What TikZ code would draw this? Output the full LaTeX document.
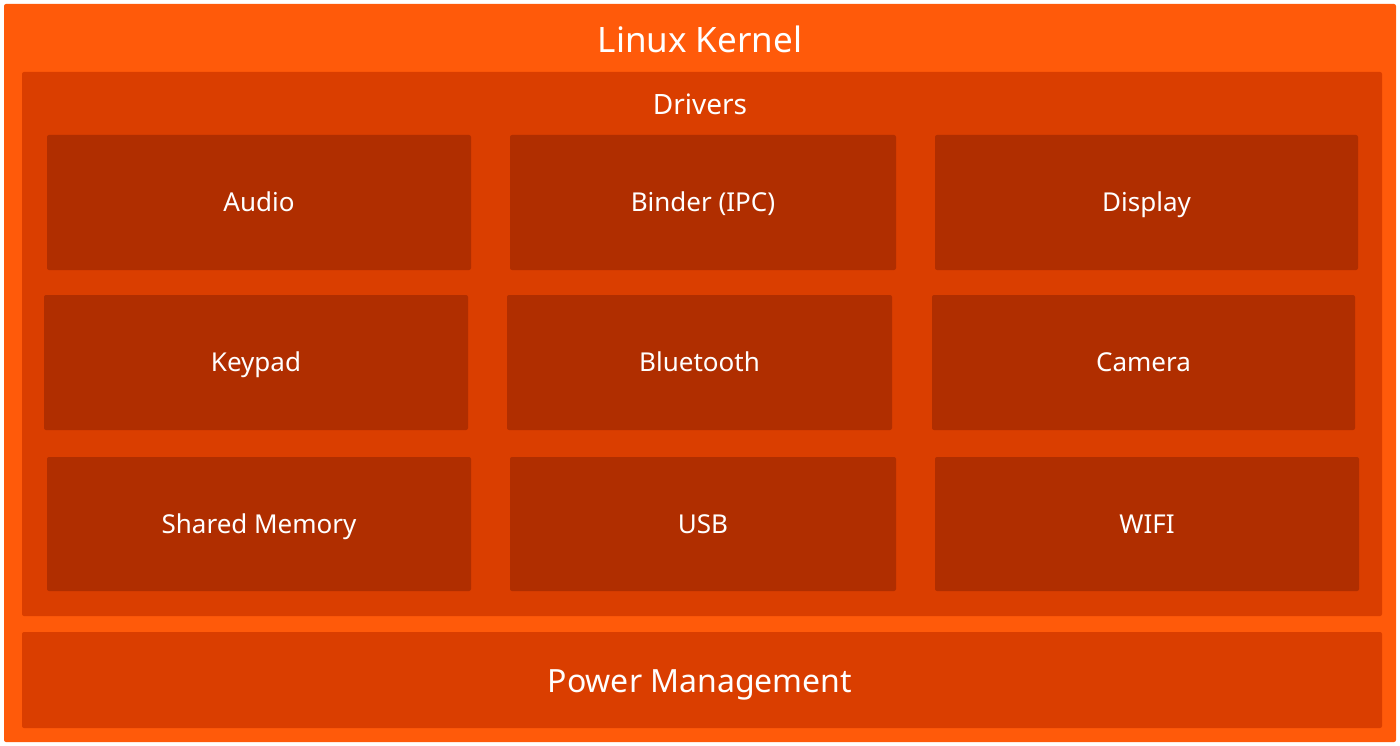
\documentclass[tikz,border=0pt]{standalone}
\usepackage{fontspec}
\setmainfont{Noto Sans}
\definecolor{outer}{HTML}{FF5A0A}
\definecolor{mid}{HTML}{DA3E00}
\definecolor{inner}{HTML}{B02E00}
\begin{document}
\begin{tikzpicture}[x=1pt,y=-1pt,
  box/.style={fill=inner,rounded corners=2pt},
  lab/.style={text=white,anchor=base,font=\fontsize{26}{28}\selectfont}]
\useasboundingbox (0,0) rectangle (1400,746);
\fill[white] (0,0) rectangle (1400,746);
\fill[outer,rounded corners=2pt] (4,4) rectangle (1396,742);
\node[text=white,anchor=base,font=\fontsize{35}{38}\selectfont] (title) at (700,53) {Linux Kernel};
\fill[mid,rounded corners=2pt] (22,72) rectangle (1382,616);
\node[text=white,anchor=base,font=\fontsize{28}{30}\selectfont] (drv) at (700,115) {Drivers};
\foreach \xa/\xb/\ya/\yb/\t/\n in {
 47/471/135/270/Audio/a, 510/896/135/270/Binder (IPC)/b, 935/1358/135/270/Display/c,
 44/468/295/430/Keypad/d, 507/892/295/430/Bluetooth/e, 932/1355/295/430/Camera/f,
 47/471/457/591/Shared Memory/g, 510/896/457/591/USB/h, 935/1359/457/591/WIFI/i}{
 \fill[box] (\xa,\ya) rectangle (\xb,\yb);
 \node[lab] (\n) at ({(\xa+\xb)/2},{(\ya+\yb)/2+9}) {\t};
}
\fill[mid,rounded corners=2pt] (22,632) rectangle (1382,728);
\node[text=white,anchor=base,font=\fontsize{32}{34}\selectfont] (pm) at (700,692) {Power Management};
\end{tikzpicture}
\end{document}
